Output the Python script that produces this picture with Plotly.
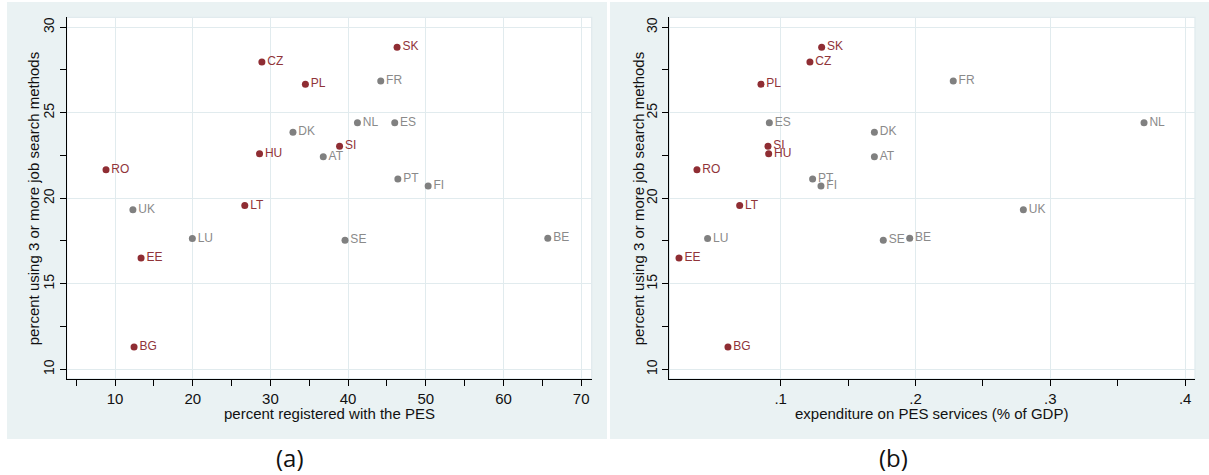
import plotly.graph_objects as go

# ---- data ----
countries = ["AT", "BE", "BG", "CZ", "DK", "EE", "ES", "FI", "FR", "HU",
             "LT", "LU", "NL", "PL", "PT", "RO", "SE", "SI", "SK", "UK"]
pct_three_methods = [22.43, 17.66, 11.3, 27.97, 23.86, 16.51, 24.42, 20.72, 26.86, 22.6,
                     19.57, 17.64, 24.42, 26.67, 21.13, 21.67, 17.54, 23.04, 28.83, 19.33]
pct_registered = [36.8, 65.7, 12.45, 28.9, 32.9, 13.35, 46.0, 50.3, 44.2, 28.6,
                  26.7, 19.95, 41.2, 34.5, 46.4, 8.84, 39.6, 38.9, 46.3, 12.3]
pes_expenditure = [0.1695, 0.1957, 0.0609, 0.1217, 0.1695, 0.0246, 0.0916, 0.1299, 0.228, 0.0911,
                   0.0696, 0.0458, 0.3695, 0.0854, 0.1237, 0.0379, 0.1761, 0.0906, 0.1304, 0.280]
cee_group = ["CZ", "SK", "PL", "HU", "SI", "RO", "LT", "EE", "BG"]

x1_ticks = [10, 20, 30, 40, 50, 60, 70]
x1_minor = [5, 15, 25, 35, 45, 55, 65]
x2_ticks = [0.1, 0.2, 0.3, 0.4]
x2_ticklabels = [".1", ".2", ".3", ".4"]
x2_minor = [0.15, 0.25, 0.35]
y_ticks = [10, 15, 20, 25, 30]
y_minor = [12.5, 17.5, 22.5, 27.5]

RED = "#8F2D33"
GRAY = "#808080"
RED_TXT = "#903439"
GRAY_TXT = "#8A8A8A"
BG = "#EAF2F3"
GRID = "#E1EBEE"
FONT = "Liberation Sans, Arial, sans-serif"

W, H = 1209, 475


def px_x(p):
    return p / W


def px_y(p):
    return 1 - p / H


fig = go.Figure()

for xs, xa, ya in [(pct_registered, "x", "y"), (pes_expenditure, "x2", "y2")]:
    for group, mcol, tcol in [(False, GRAY, GRAY_TXT), (True, RED, RED_TXT)]:
        idx = [i for i, c in enumerate(countries) if (c in cee_group) == group]
        fig.add_trace(go.Scatter(
            x=[xs[i] for i in idx],
            y=[pct_three_methods[i] for i in idx],
            text=[countries[i] for i in idx],
            mode="markers+text",
            textposition="middle right",
            marker=dict(color=mcol, size=7),
            textfont=dict(color=tcol, size=12, family=FONT),
            xaxis=xa, yaxis=ya,
            showlegend=False, hoverinfo="skip",
        ))

ydom = [px_y(379), px_y(17.3)]
xdom1 = [px_x(66.7), px_x(591.7)]
xdom2 = [px_x(669.3), px_x(1195)]

axis_common = dict(
    showline=True, linecolor="black", linewidth=1,
    ticks="outside", ticklen=6, tickcolor="black", tickwidth=1,
    showgrid=True, gridcolor=GRID, gridwidth=1.3,
    zeroline=False,
)
minor_common = dict(ticks="outside", ticklen=6, tickcolor="black", tickwidth=1, showgrid=False)
xtickfont = dict(size=15, color="#111", family=FONT)
ytickfont = dict(size=14, color="#111", family=FONT)

fig.update_layout(
    width=W, height=H,
    margin=dict(l=0, r=0, t=0, b=0),
    paper_bgcolor="white", plot_bgcolor="white",
    font=dict(family=FONT),
    xaxis=dict(domain=xdom1, range=[3.78, 71.35], anchor="y",
               tickmode="array", tickvals=x1_ticks, tickfont=xtickfont,
               minor=dict(tickmode="array", tickvals=x1_minor, **minor_common),
               **axis_common),
    yaxis=dict(domain=ydom, range=[9.43, 30.58], anchor="x",
               tickmode="array", tickvals=y_ticks, tickangle=-90, tickfont=ytickfont,
               minor=dict(tickmode="array", tickvals=y_minor, **minor_common),
               **axis_common),
    xaxis2=dict(domain=xdom2, range=[0.0174, 0.4073], anchor="y2",
                tickmode="array", tickvals=x2_ticks, ticktext=x2_ticklabels, tickfont=xtickfont,
                minor=dict(tickmode="array", tickvals=x2_minor, **minor_common),
                **axis_common),
    yaxis2=dict(domain=ydom, range=[9.43, 30.58], anchor="x2",
                tickmode="array", tickvals=y_ticks, tickangle=-90, tickfont=ytickfont,
                minor=dict(tickmode="array", tickvals=y_minor, **minor_common),
                **axis_common),
)

# panel backgrounds
for x0, x1 in [(7, 607), (610, 1209)]:
    fig.add_shape(type="rect", xref="paper", yref="paper", layer="below",
                  x0=px_x(x0), x1=px_x(x1), y0=px_y(439), y1=px_y(2),
                  fillcolor=BG, line=dict(width=0))
# white plot regions with light outline
for xd in [xdom1, xdom2]:
    fig.add_shape(type="rect", xref="paper", yref="paper", layer="below",
                  x0=xd[0], x1=xd[1], y0=ydom[0], y1=ydom[1],
                  fillcolor="white", line=dict(color=GRID, width=1.3))

# axis titles and panel captions
ann = [
    dict(x=px_x(329), y=px_y(413), text="percent registered with the PES", textangle=0),
    dict(x=px_x(931), y=px_y(413), text="expenditure on PES services (% of GDP)", textangle=0),
    dict(x=px_x(33.3), y=px_y(198), text="percent using 3 or more job search methods", textangle=-90),
    dict(x=px_x(638.3), y=px_y(198), text="percent using 3 or more job search methods", textangle=-90),
]
for a in ann:
    fig.add_annotation(xref="paper", yref="paper", showarrow=False,
                       xanchor="center", yanchor="middle",
                       font=dict(size=15, color="#111", family=FONT), **a)
for txt, xc in [("(a)", 290), ("(b)", 893.5)]:
    fig.add_annotation(xref="paper", yref="paper", showarrow=False,
                       x=px_x(xc), y=px_y(457), xanchor="center", yanchor="middle",
                       text=txt, font=dict(size=24, color="#111", family="Open Sans, sans-serif"))

fig.write_html("out.html", config={"displayModeBar": False},
               post_script="document.body.style.margin='0px';")
